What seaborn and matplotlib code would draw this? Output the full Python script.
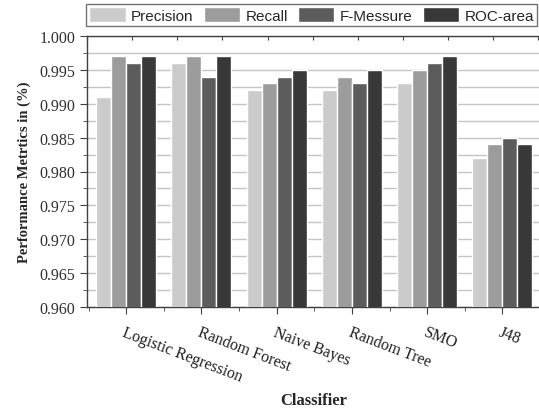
import pandas as pd
import numpy as np
import matplotlib
matplotlib.use('Agg')
import matplotlib.pyplot as plt
from matplotlib.ticker import MultipleLocator, FixedLocator
import seaborn as sns

classifiers = ['Logistic Regression', 'Random Forest', 'Naive Bayes',
               'Random Tree', 'SMO', 'J48']
precision = [0.991, 0.996, 0.992, 0.992, 0.993, 0.982]
recall = [0.997, 0.997, 0.993, 0.994, 0.995, 0.984]
f_messure = [0.996, 0.994, 0.994, 0.993, 0.996, 0.985]
roc_area = [0.997, 0.997, 0.995, 0.995, 0.997, 0.984]
metrics = ['Precision', 'Recall', 'F-Messure', 'ROC-area']
colors = ['#cbcbcb', '#9c9c9c', '#5c5c5c', '#383838']

df = pd.DataFrame({'Classifier': classifiers, 'Precision': precision, 'Recall': recall,
                   'F-Messure': f_messure, 'ROC-area': roc_area})
long_df = df.melt(id_vars='Classifier', var_name='Metric', value_name='Value')

sns.set_style('ticks')
plt.rcParams['font.family'] = ['Liberation Serif', 'DejaVu Serif']

fig = plt.figure(figsize=(5.39, 4.14), dpi=100)
ax = fig.add_axes([87 / 539, 1 - 308 / 414, 453 / 539, 271 / 414])

sns.barplot(data=long_df, x='Classifier', y='Value', hue='Metric', hue_order=metrics,
            palette=colors, width=0.8, edgecolor='white', linewidth=1.0,
            saturation=1, ax=ax, legend=True, zorder=3)

ax.set_xlim(-0.52, 5.5)
ax.set_ylim(0.96, 1.0)
ax.yaxis.set_major_locator(MultipleLocator(0.005))
ax.yaxis.set_minor_locator(MultipleLocator(0.0025))
ax.set_yticklabels([f'{v:.3f}' for v in ax.get_yticks()])
ax.xaxis.set_minor_locator(FixedLocator(np.arange(-0.5, 6, 1.0)))
ax.grid(axis='y', which='both', color='#c4c4c4', linewidth=1.0, zorder=0)
ax.set_axisbelow(True)

for s in ['left', 'bottom', 'top']:
    ax.spines[s].set_color('#404040')
    ax.spines[s].set_linewidth(1.0)
ax.spines['right'].set_visible(False)

ax.tick_params(axis='y', which='major', direction='out', length=5, color='#404040',
               labelsize=11.5, labelcolor='#303030')
ax.tick_params(axis='y', which='minor', direction='out', length=3, color='#404040')
ax.tick_params(axis='x', which='major', direction='out', length=5, color='#404040', pad=7)
ax.tick_params(axis='x', which='minor', direction='out', length=3, color='#404040')

ax.set_xticks(range(len(classifiers)))
ax.set_xticklabels(classifiers, rotation=-21, ha='left', va='top',
                   rotation_mode='anchor', fontsize=11.5, color='#202020')

top = ax.secondary_xaxis('top')
top.set_xticks(np.arange(-0.52, 5.5, 0.6))
top.tick_params(direction='in', length=3, color='#404040', labeltop=False)
top.spines['top'].set_visible(False)

ax.set_ylabel('Performance Metrtics in (%)', fontsize=10.5, fontweight='bold', labelpad=6)
ax.set_xlabel('Classifier', fontsize=12, fontweight='bold')
ax.xaxis.set_label_coords(0.5, -0.315)

handles, labels = ax.get_legend_handles_labels()
ax.get_legend().remove()
leg = fig.legend(handles, labels, loc='upper left', bbox_to_anchor=(86 / 539, 1 - 5 / 414),
                 ncol=4, frameon=True, fancybox=False, edgecolor='#505050',
                 prop={'family': 'Liberation Sans', 'size': 11},
                 handlelength=2.4, handleheight=1.1, handletextpad=0.35,
                 columnspacing=0.65, borderpad=0.2, borderaxespad=0)
leg.get_frame().set_linewidth(1.0)
for h in leg.legend_handles:
    h.set_edgecolor('white')

fig.savefig('out.png', dpi=100)
